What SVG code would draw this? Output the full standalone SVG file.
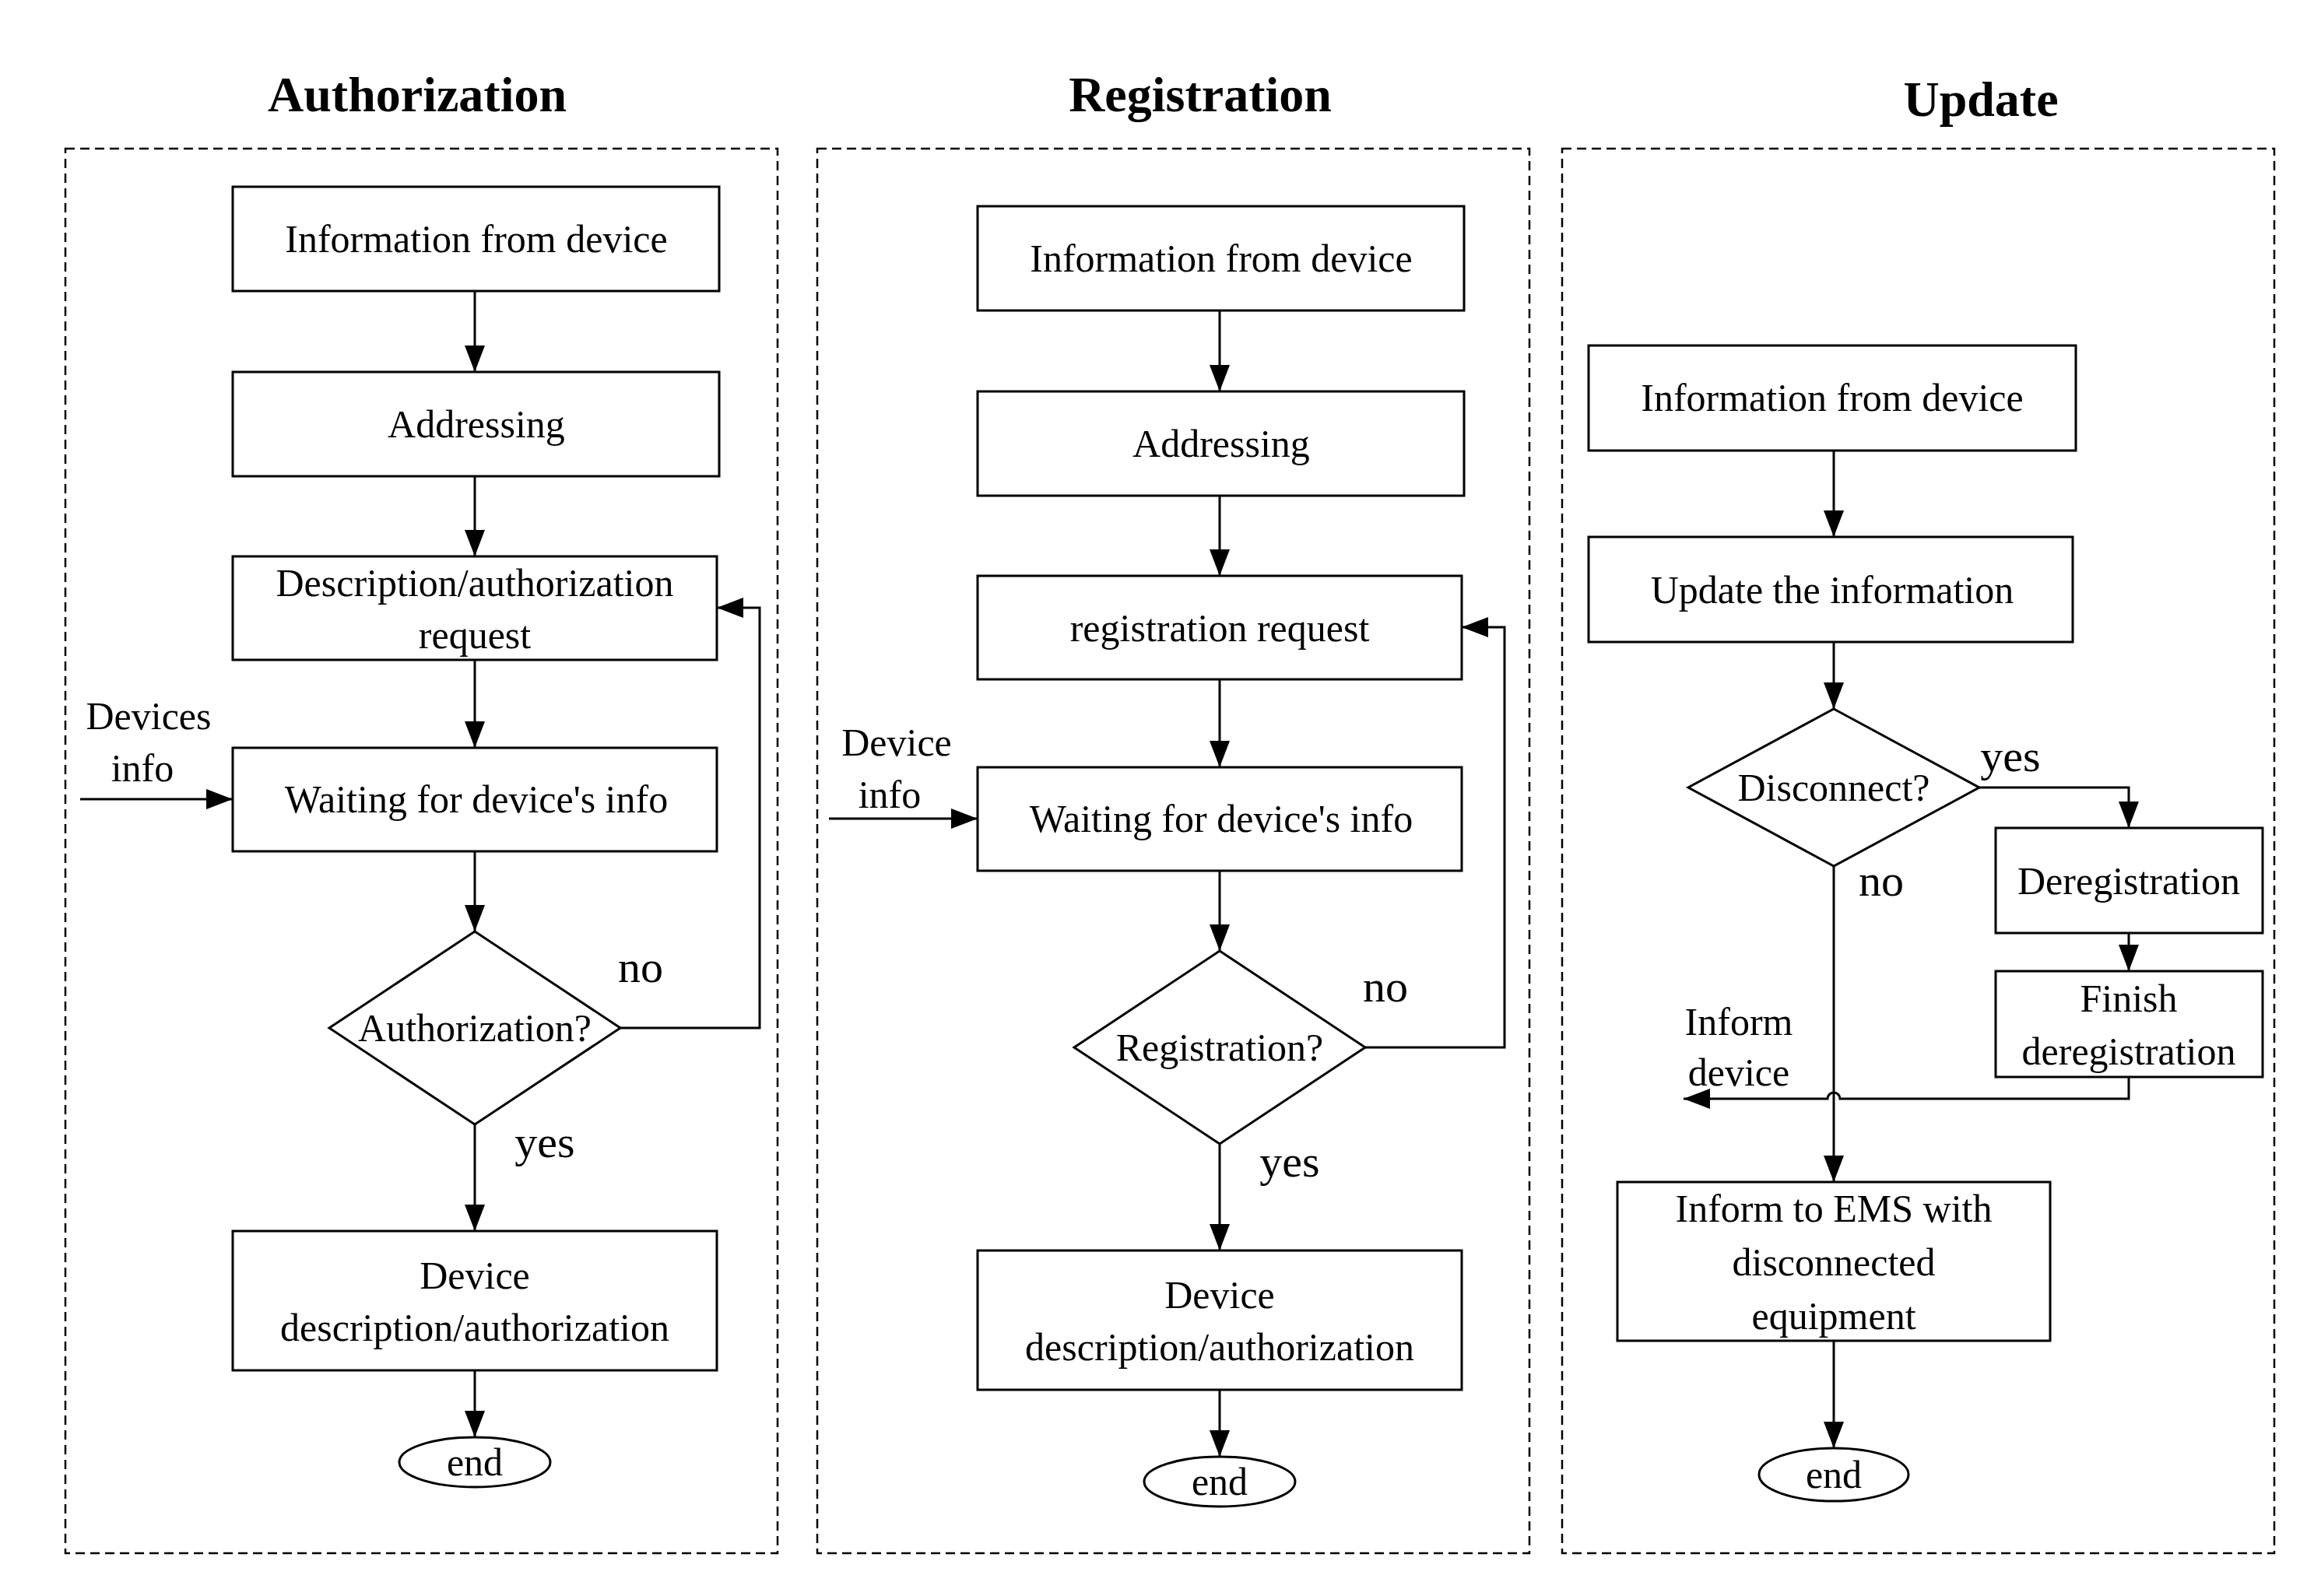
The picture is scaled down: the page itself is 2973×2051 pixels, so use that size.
<svg xmlns="http://www.w3.org/2000/svg" width="2973" height="2051" viewBox="0 0 2973 2051">
<style>
text{font-family:"Liberation Serif","Times New Roman",serif;fill:#000;text-anchor:middle}
.t{font-size:50px}
.l{font-size:58px}
.h{font-size:64px;font-weight:bold}
.b{fill:#fff;stroke:#000;stroke-width:3}
.p{fill:none;stroke:#000;stroke-width:2.5;stroke-dasharray:12 7}
.c{fill:none;stroke:#000;stroke-width:3}
</style>
<defs>
<marker id="a" markerUnits="userSpaceOnUse" markerWidth="36" markerHeight="26" refX="34" refY="13" orient="auto">
<path d="M0,0 L34,13 L0,26 Z" fill="#000"/>
</marker>
</defs>
<rect width="2973" height="2051" fill="#fff"/>
<g id="panels">
<rect class="p" x="84" y="191" width="915" height="1805"/>
<rect class="p" x="1050" y="191" width="915" height="1805"/>
<rect class="p" x="2007" y="191" width="915" height="1805"/>
<text class="h" x="536" y="143">Authorization</text>
<text class="h" x="1542" y="143">Registration</text>
<text class="h" x="2545" y="149">Update</text>
</g>
<g id="connectors">
<line class="c" x1="610" y1="374" x2="610" y2="478" marker-end="url(#a)"/>
<line class="c" x1="610" y1="612" x2="610" y2="715" marker-end="url(#a)"/>
<line class="c" x1="610" y1="848" x2="610" y2="961" marker-end="url(#a)"/>
<line class="c" x1="610" y1="1094" x2="610" y2="1197" marker-end="url(#a)"/>
<line class="c" x1="610" y1="1445" x2="610" y2="1582" marker-end="url(#a)"/>
<line class="c" x1="610" y1="1761" x2="610" y2="1847" marker-end="url(#a)"/>
<polyline class="c" points="797,1321 976,1321 976,781 921,781" marker-end="url(#a)"/>
<line class="c" x1="103" y1="1027" x2="299" y2="1027" marker-end="url(#a)"/>
<g transform="translate(957,25)">
<line class="c" x1="610" y1="374" x2="610" y2="478" marker-end="url(#a)"/>
<line class="c" x1="610" y1="612" x2="610" y2="715" marker-end="url(#a)"/>
<line class="c" x1="610" y1="848" x2="610" y2="961" marker-end="url(#a)"/>
<line class="c" x1="610" y1="1094" x2="610" y2="1197" marker-end="url(#a)"/>
<line class="c" x1="610" y1="1445" x2="610" y2="1582" marker-end="url(#a)"/>
<line class="c" x1="610" y1="1761" x2="610" y2="1847" marker-end="url(#a)"/>
<polyline class="c" points="797,1321 976,1321 976,781 921,781" marker-end="url(#a)"/>
<line class="c" x1="108" y1="1027" x2="299" y2="1027" marker-end="url(#a)"/>
</g>
<line class="c" x1="2356" y1="579" x2="2356" y2="690" marker-end="url(#a)"/>
<line class="c" x1="2356" y1="825" x2="2356" y2="911" marker-end="url(#a)"/>
<polyline class="c" points="2543,1012 2735,1012 2735,1064" marker-end="url(#a)"/>
<line class="c" x1="2735" y1="1199" x2="2735" y2="1248" marker-end="url(#a)"/>
<line class="c" x1="2356" y1="1113" x2="2356" y2="1519" marker-end="url(#a)"/>
<path class="c" d="M2735,1384 L2735,1412 L2364,1412 A8,8 0 0 0 2348,1412 L2163,1412" marker-end="url(#a)"/>
<line class="c" x1="2356" y1="1723" x2="2356" y2="1861" marker-end="url(#a)"/>
</g>
<g id="auth-info"><rect class="b" x="299" y="240" width="625" height="134"/><text class="t" x="612" y="324">Information from device</text></g>
<g id="auth-addr"><rect class="b" x="299" y="478" width="625" height="134"/><text class="t" x="612" y="562">Addressing</text></g>
<g id="auth-req"><rect class="b" x="299" y="715" width="622" height="133"/><text class="t" x="610" y="766">Description/authorization</text><text class="t" x="610" y="833">request</text></g>
<g id="auth-wait"><rect class="b" x="299" y="961" width="622" height="133"/><text class="t" x="612" y="1044">Waiting for device's info</text></g>
<g id="auth-dec"><polygon class="b" points="610,1197 797,1321 610,1445 423,1321"/><text class="t" x="610" y="1338">Authorization?</text></g>
<g id="auth-desc"><rect class="b" x="299" y="1582" width="622" height="179"/><text class="t" x="610" y="1656">Device</text><text class="t" x="610" y="1723">description/authorization</text></g>
<g id="auth-end"><ellipse class="b" cx="610" cy="1879" rx="97" ry="32"/><text class="t" x="610" y="1896">end</text></g>
<g id="auth-labels"><text class="l" x="823" y="1262">no</text><text class="l" x="700" y="1487">yes</text><text class="t" x="191" y="937">Devices</text><text class="t" x="183" y="1004">info</text></g>
<g transform="translate(957,25)">
<g id="reg-info"><rect class="b" x="299" y="240" width="625" height="134"/><text class="t" x="612" y="324">Information from device</text></g>
<g id="reg-addr"><rect class="b" x="299" y="478" width="625" height="134"/><text class="t" x="612" y="562">Addressing</text></g>
<g id="reg-req"><rect class="b" x="299" y="715" width="622" height="133"/><text class="t" x="610" y="799">registration request</text></g>
<g id="reg-wait"><rect class="b" x="299" y="961" width="622" height="133"/><text class="t" x="612" y="1044">Waiting for device's info</text></g>
<g id="reg-dec"><polygon class="b" points="610,1197 797,1321 610,1445 423,1321"/><text class="t" x="610" y="1338">Registration?</text></g>
<g id="reg-desc"><rect class="b" x="299" y="1582" width="622" height="179"/><text class="t" x="610" y="1656">Device</text><text class="t" x="610" y="1723">description/authorization</text></g>
<g id="reg-end"><ellipse class="b" cx="610" cy="1879" rx="97" ry="32"/><text class="t" x="610" y="1896">end</text></g>
<g id="reg-labels"><text class="l" x="823" y="1262">no</text><text class="l" x="700" y="1487">yes</text><text class="t" x="195" y="946">Device</text><text class="t" x="186" y="1013">info</text></g>
</g>
<g id="upd-info"><rect class="b" x="2041" y="444" width="626" height="135"/><text class="t" x="2354" y="528">Information from device</text></g>
<g id="upd-upd"><rect class="b" x="2041" y="690" width="622" height="135"/><text class="t" x="2354" y="775">Update the information</text></g>
<g id="upd-dec"><polygon class="b" points="2356,911 2543,1012 2356,1113 2169,1012"/><text class="t" x="2356" y="1029">Disconnect?</text></g>
<g id="upd-dereg"><rect class="b" x="2564" y="1064" width="343" height="135"/><text class="t" x="2735" y="1149">Deregistration</text></g>
<g id="upd-finish"><rect class="b" x="2564" y="1248" width="343" height="136"/><text class="t" x="2735" y="1300">Finish</text><text class="t" x="2735" y="1368">deregistration</text></g>
<g id="upd-ems"><rect class="b" x="2078" y="1519" width="556" height="204"/><text class="t" x="2356" y="1570">Inform to EMS with</text><text class="t" x="2356" y="1639">disconnected</text><text class="t" x="2356" y="1708">equipment</text></g>
<g id="upd-end"><ellipse class="b" cx="2356" cy="1895" rx="96" ry="34"/><text class="t" x="2356" y="1912">end</text></g>
<g id="upd-labels"><text class="l" x="2583" y="991">yes</text><text class="l" x="2417" y="1151">no</text><text class="t" x="2234" y="1330">Inform</text><text class="t" x="2234" y="1395">device</text></g>
</svg>
